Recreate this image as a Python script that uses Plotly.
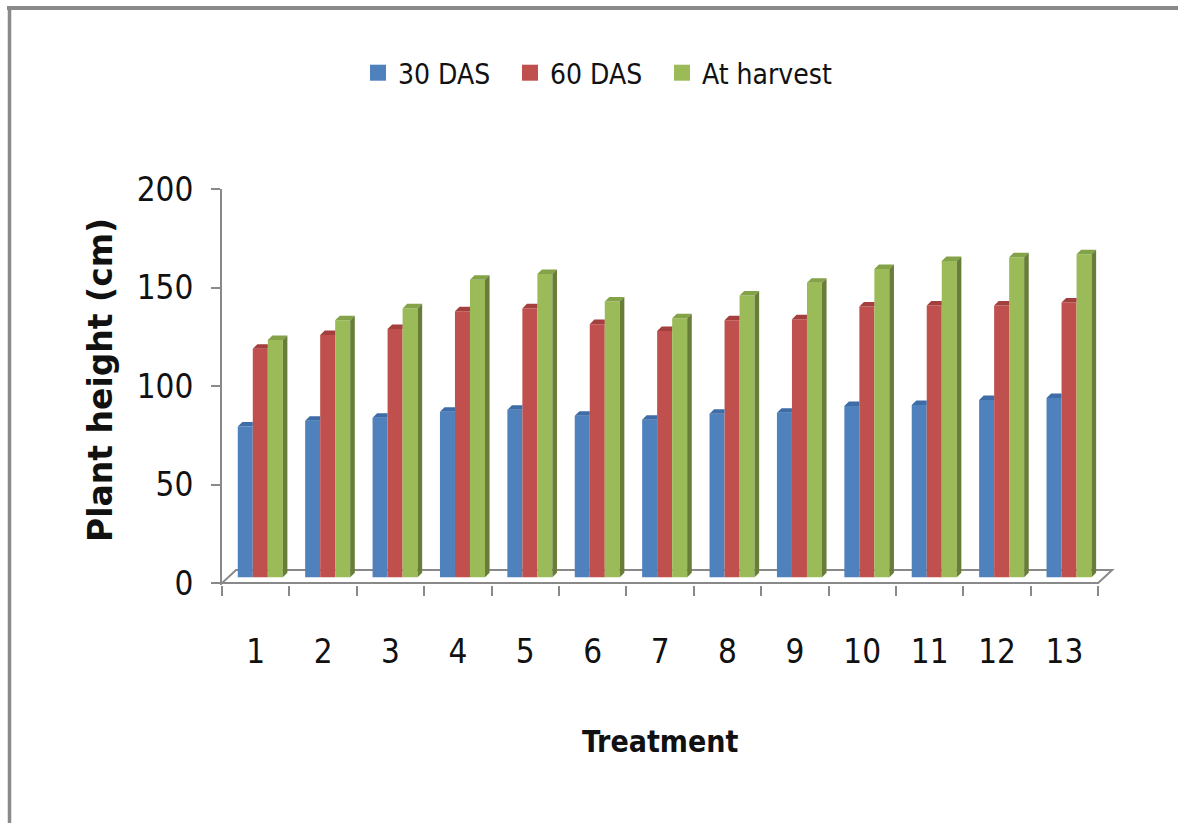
import plotly.graph_objects as go

# Plant height (cm) at three growth stages for 13 treatments
treatments = list(range(1, 14))
tick_labels = [str(t) for t in treatments]
series_names = ["30 DAS", "60 DAS", "At harvest"]
das30 = [76.5, 79.5, 81, 84, 85, 82, 80, 83, 83.5, 87, 87.5, 90, 91]
das60 = [116, 123, 126, 135, 136.5, 128.5, 125, 130.5, 131, 137.5, 138, 138, 139.5]
harvest = [120.5, 130.5, 136.5, 151, 154, 140, 131.5, 143, 149.5, 156.5, 160.5, 162.5, 164]

face_colors = ["#4F81BD", "#C0504D", "#9BBB59"]
cap_colors = ["#3E6CA6", "#A33F3C", "#84A348"]
side_colors = ["#34598A", "#86312F", "#687D37"]

NARROW = "Liberation Sans Narrow, Arial Narrow, DejaVu Sans Condensed, sans-serif"
AXIS_GRAY = "#898989"

# pseudo-3D geometry (axis units)
bar_w = 0.2227
first_off = -0.266
depth_x, depth_y = 0.068, 2.3      # cap / side extrusion
bar_base = 2.9                     # bars stand a little behind the front edge of the floor
floor_dx, floor_dy = 0.208, 6.6

W, H = 1178, 823
ML, MR, MT, MB = 222, 63, 189, 238
PW, PH = W - ML - MR, H - MT - MB


def px_to_paper_x(px):
    return (px - ML) / PW


def px_to_paper_y(py):
    return (H - MB - py) / PH


fig = go.Figure()

all_series = [das30, das60, harvest]
n_series = len(all_series)

for k, (name, vals) in enumerate(zip(series_names, all_series)):
    off = first_off + k * bar_w
    fig.add_trace(go.Bar(
        x=treatments, y=vals, base=[bar_base] * len(vals),
        offset=off, width=bar_w,
        marker=dict(color=face_colors[k], line=dict(width=0)),
        name=name, showlegend=False, hoverinfo="skip",
    ))

for k, vals in enumerate(all_series):
    off = first_off + k * bar_w
    last = (k == n_series - 1)
    cx, cy, sx, sy = [], [], [], []
    for t, v in zip(treatments, vals):
        x0 = t + off
        x1 = x0 + bar_w
        top = bar_base + v
        # top cap (trimmed where the next, taller bar hides it)
        xr = x1 + depth_x if last else x1
        cx += [x0, x1, xr, x0 + depth_x, x0, None]
        cy += [top, top, top + depth_y, top + depth_y, top, None]
        if last:
            sx += [x1, x1 + depth_x, x1 + depth_x, x1, x1, None]
            sy += [bar_base, bar_base + depth_y, top + depth_y, top, bar_base, None]
    fig.add_trace(go.Scatter(
        x=cx, y=cy, mode="lines", fill="toself", fillcolor=cap_colors[k],
        line=dict(width=0, color=cap_colors[k]), showlegend=False, hoverinfo="skip",
    ))
    if sx:
        fig.add_trace(go.Scatter(
            x=sx, y=sy, mode="lines", fill="toself", fillcolor=side_colors[k],
            line=dict(width=0, color=side_colors[k]), showlegend=False, hoverinfo="skip",
        ))

# legend swatches (last entry in its own legend so its longer label is not cut)
for k, name in enumerate(series_names):
    fig.add_trace(go.Scatter(
        x=[None], y=[None], mode="markers", name=name,
        marker=dict(symbol="square", size=18, color=face_colors[k]),
        legend="legend2" if k == n_series - 1 else "legend",
    ))

x_lo, x_hi = treatments[0] - 0.5, treatments[-1] + 0.5
floor_path = (
    f"M {x_lo},0 L {x_hi},0 L {x_hi + floor_dx},{floor_dy} "
    f"L {x_lo + floor_dx},{floor_dy} Z"
)

shapes = [
    dict(type="path", xref="x", yref="y", path=floor_path, layer="below",
         line=dict(color=AXIS_GRAY, width=2), fillcolor="rgba(0,0,0,0)"),
    # outer chart-area frame (top and left edges)
    dict(type="line", xref="paper", yref="paper",
         x0=px_to_paper_x(7), x1=px_to_paper_x(W + 5),
         y0=px_to_paper_y(8), y1=px_to_paper_y(8),
         line=dict(color="#8A8A8A", width=4)),
    dict(type="line", xref="paper", yref="paper",
         x0=px_to_paper_x(9.5), x1=px_to_paper_x(9.5),
         y0=px_to_paper_y(6), y1=px_to_paper_y(H + 5),
         line=dict(color="#8A8A8A", width=3.5)),
]

annotations = [
    dict(text="Plant height (cm)", textangle=-90, showarrow=False,
         xref="paper", yref="paper",
         x=px_to_paper_x(100), y=px_to_paper_y(380),
         xanchor="center", yanchor="middle",
         font=dict(family="DejaVu Sans, Verdana, sans-serif", size=33,
                   color="#111111", weight="bold")),
    dict(text="Treatment", showarrow=False, xref="paper", yref="paper",
         x=px_to_paper_x(660), y=px_to_paper_y(741),
         xanchor="center", yanchor="middle",
         font=dict(family=NARROW, size=30, color="#111111", weight="bold")),
]

boundaries = [t - 0.5 for t in treatments] + [treatments[-1] + 0.5]

legend_common = dict(
    orientation="h", xref="container", yref="container",
    y=1 - 73 / H, xanchor="left", yanchor="middle",
    font=dict(family=NARROW, size=28, color="#111111"),
    bgcolor="rgba(0,0,0,0)",
)

fig.update_layout(
    width=W, height=H,
    margin=dict(l=ML, r=MR, t=MT, b=MB),
    paper_bgcolor="white", plot_bgcolor="white",
    barmode="overlay",
    showlegend=True,
    legend=dict(x=358 / W, entrywidth=107, entrywidthmode="pixels", **legend_common),
    legend2=dict(x=662 / W, **legend_common),
    xaxis=dict(
        range=[x_lo, treatments[-1] + 0.75],
        tickmode="array", tickvals=treatments, ticktext=tick_labels,
        ticks="outside", ticklen=37, tickcolor="rgba(0,0,0,0)",
        showline=False, showgrid=False, zeroline=False,
        tickfont=dict(family=NARROW, size=33, color="#111111"),
        minor=dict(tickmode="array", tickvals=boundaries, ticks="outside",
                   ticklen=10, tickwidth=2, tickcolor=AXIS_GRAY, showgrid=False),
        fixedrange=True,
    ),
    yaxis=dict(
        range=[-1, 200], tickmode="array", tickvals=[0, 50, 100, 150, 200],
        ticks="outside", ticklen=9, tickwidth=2, tickcolor=AXIS_GRAY,
        showline=True, linecolor=AXIS_GRAY, linewidth=2,
        showgrid=False, zeroline=False,
        tickfont=dict(family=NARROW, size=33, color="#111111"),
        ticklabelstandoff=11,
        fixedrange=True,
    ),
    shapes=shapes,
    annotations=annotations,
)

fig.write_html("out.html")
